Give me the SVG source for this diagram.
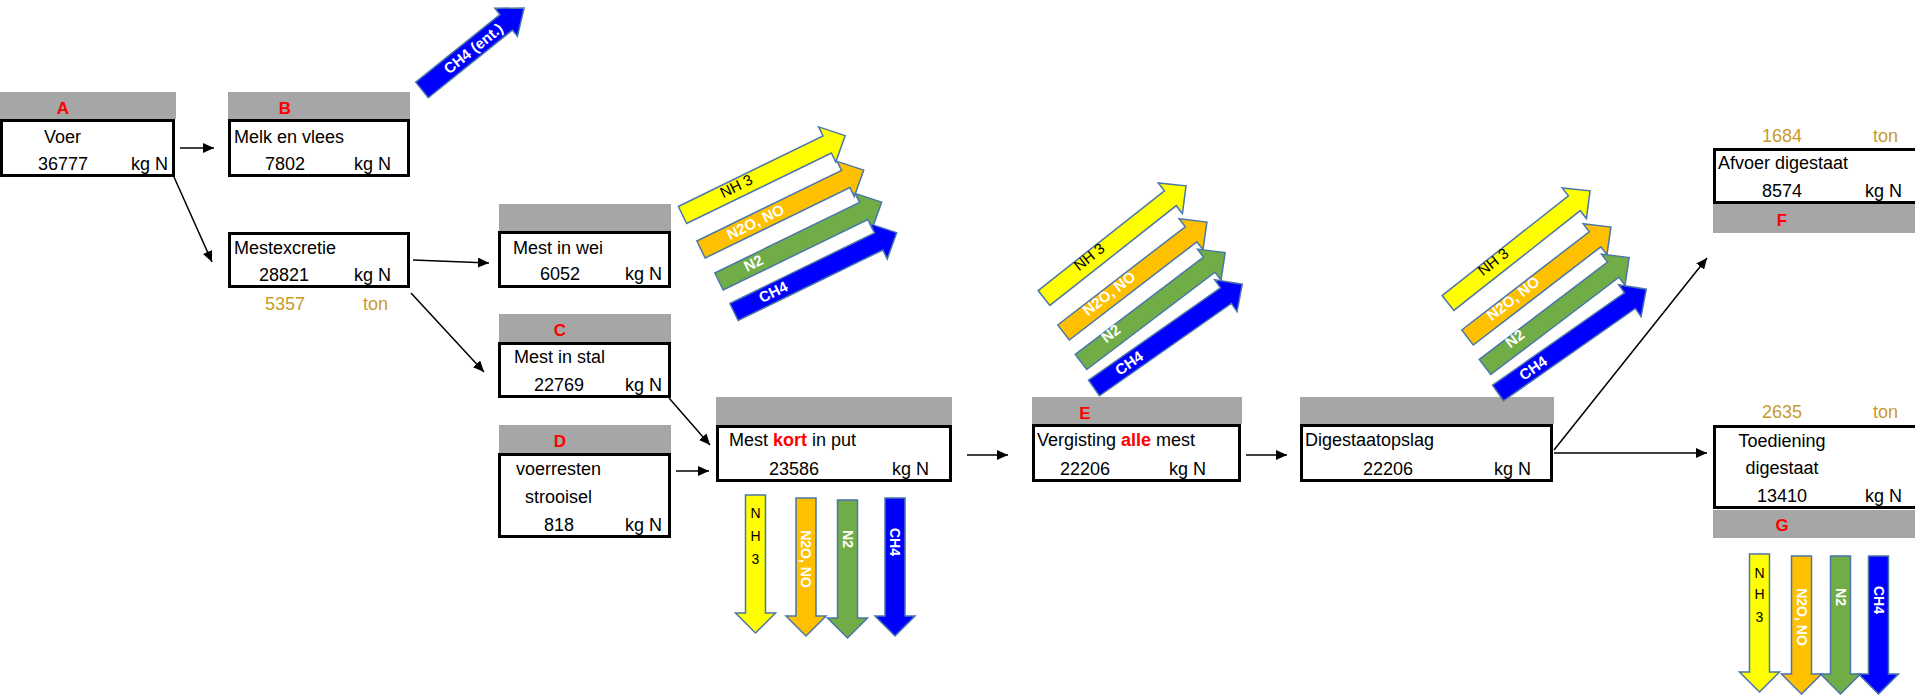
<svg xmlns="http://www.w3.org/2000/svg" width="1915" height="695" viewBox="0 0 1915 695">
<style>
text{font-family:"Liberation Sans",Arial,sans-serif;}
.t{font-size:18px;fill:#000}
.m{text-anchor:middle}
.e{text-anchor:end}
.hd{fill:#A6A6A6}
.bx{fill:#fff;stroke:#000;stroke-width:3}
.lt{font-size:17px;font-weight:bold;fill:#FF0000;text-anchor:middle}
.gold{font-size:18px;fill:#C99A2E}
.red{fill:#FF0000;font-weight:bold}
.con{stroke:#000;stroke-width:1.5;fill:none;marker-end:url(#ah)}
.ar{stroke:#4A76A8;stroke-width:1.5}
.y{fill:#FFFF00}.o{fill:#FFC000}.g{fill:#70AD47}.b{fill:#0000FF}
.dl{font-size:15px;text-anchor:middle;fill:#000}
.vl{font-size:14px;text-anchor:middle;fill:#000}
text.wl{fill:#fff;font-weight:bold}
</style>
<defs>
<marker id="ah" markerUnits="userSpaceOnUse" markerWidth="11" markerHeight="10" refX="11" refY="5" orient="auto"><path d="M0,0 L11,5 L0,10 Z" fill="#000"/></marker>
<path id="da" d="M0,-9.5 H161 V-19.5 L181,0 L161,19.5 V9.5 H0 Z"/>
<path id="dn" d="M-10,0 H10 V118 H20 L0,138 L-20,118 H-10 Z"/>
</defs>

<g id="connectors">
<line class="con" x1="180" y1="148" x2="214" y2="148"/>
<line class="con" x1="174" y1="177" x2="212" y2="262"/>
<line class="con" x1="413" y1="260" x2="489" y2="263"/>
<line class="con" x1="411" y1="293" x2="484" y2="372"/>
<line class="con" x1="669" y1="398" x2="710" y2="445"/>
<line class="con" x1="676" y1="471" x2="709" y2="471"/>
<line class="con" x1="967" y1="455" x2="1008" y2="455"/>
<line class="con" x1="1246" y1="455" x2="1287" y2="455"/>
<line class="con" x1="1554" y1="450" x2="1707" y2="258"/>
<line class="con" x1="1554" y1="453" x2="1707" y2="453"/>
<line x1="1910" y1="455" x2="1915" y2="455" stroke="#000" stroke-width="2"/>
</g>

<g id="node-A">
<rect class="hd" x="0" y="92" width="176" height="27"/>
<text class="lt" x="63" y="114">A</text>
<rect class="bx" x="1.5" y="120.5" width="172" height="55"/>
<text class="t" x="44" y="143">Voer</text>
<text class="t m" x="63" y="170">36777</text>
<text class="t e" x="168" y="170">kg N</text>
</g>

<g id="node-B">
<rect class="hd" x="228" y="92" width="182" height="27"/>
<text class="lt" x="285" y="114">B</text>
<rect class="bx" x="229.5" y="120.5" width="179" height="55"/>
<text class="t" x="234" y="143">Melk en vlees</text>
<text class="t m" x="285" y="170">7802</text>
<text class="t e" x="391" y="170">kg N</text>
</g>

<g id="node-mestexcretie">
<rect class="bx" x="229.5" y="233.5" width="179" height="53"/>
<text class="t" x="234" y="254">Mestexcretie</text>
<text class="t m" x="284" y="281">28821</text>
<text class="t e" x="391" y="281">kg N</text>
<text class="gold m" x="285" y="310">5357</text>
<text class="gold e" x="388" y="310">ton</text>
</g>

<g id="node-ch4-ent">
<g transform="translate(422,90) rotate(-38.8)">
<path class="ar b" d="M0,-10 H108 V-18 L131,0 L108,18 V10 H0 Z"/>
<text class="dl wl" x="66" y="5" font-size="14.5">CH4 (ent.)</text>
</g>
</g>

<g id="node-mest-in-wei">
<rect class="hd" x="499" y="204" width="172" height="27"/>
<rect class="bx" x="499.5" y="232.5" width="170" height="54"/>
<text class="t" x="513" y="254">Mest in wei</text>
<text class="t m" x="560" y="280">6052</text>
<text class="t e" x="662" y="280">kg N</text>
</g>

<g id="emissions-wei">
<g transform="translate(682.5,215) rotate(-26)"><use href="#da" class="ar y"/><text class="dl" x="61" y="2.7">NH 3</text></g>
<g transform="translate(701,249.5) rotate(-26)"><use href="#da" class="ar o"/><text class="dl wl" x="61" y="4.4">N2O, NO</text></g>
<g transform="translate(719,281.5) rotate(-26)"><use href="#da" class="ar g"/><text class="dl wl" x="39" y="3.7">N2</text></g>
<g transform="translate(734,312) rotate(-26)"><use href="#da" class="ar b"/><text class="dl wl" x="44" y="4.5">CH4</text></g>
</g>

<g id="node-C">
<rect class="hd" x="499" y="314" width="172" height="28"/>
<text class="lt" x="560" y="336">C</text>
<rect class="bx" x="499.5" y="343.5" width="170" height="53"/>
<text class="t" x="514" y="363">Mest in stal</text>
<text class="t m" x="559" y="391">22769</text>
<text class="t e" x="662" y="391">kg N</text>
</g>

<g id="node-D">
<rect class="hd" x="499" y="425" width="172" height="28"/>
<text class="lt" x="560" y="447">D</text>
<rect class="bx" x="499.5" y="454.5" width="170" height="82"/>
<text class="t" x="516" y="475">voerresten</text>
<text class="t" x="525" y="503">strooisel</text>
<text class="t m" x="559" y="531">818</text>
<text class="t e" x="662" y="531">kg N</text>
</g>

<g id="node-mest-kort">
<rect class="hd" x="716" y="397" width="236" height="28"/>
<rect class="bx" x="717.5" y="426.5" width="233" height="54"/>
<text class="t" x="729" y="446">Mest <tspan class="red">kort</tspan> in put</text>
<text class="t m" x="794" y="475">23586</text>
<text class="t e" x="929" y="475">kg N</text>
</g>

<g id="emissions-put">
<use href="#dn" class="ar y" transform="translate(755.5,495)"/>
<use href="#dn" class="ar o" transform="translate(806,498)"/>
<use href="#dn" class="ar g" transform="translate(847.5,500)"/>
<use href="#dn" class="ar b" transform="translate(895,498)"/>
<text class="vl" x="755.5" y="518">N</text>
<text class="vl" x="755.5" y="541">H</text>
<text class="vl" x="755.5" y="564">3</text>
<text class="vl wl" transform="translate(806,559) rotate(90)" y="5">N2O, NO</text>
<text class="vl wl" transform="translate(847.5,539) rotate(90)" y="5">N2</text>
<text class="vl wl" transform="translate(895,542) rotate(90)" y="5">CH4</text>
</g>

<g id="node-E">
<rect class="hd" x="1032" y="397" width="210" height="27"/>
<text class="lt" x="1085" y="419">E</text>
<rect class="bx" x="1033.5" y="425.5" width="206" height="55"/>
<text class="t" x="1037" y="446">Vergisting <tspan class="red">alle</tspan> mest</text>
<text class="t m" x="1085" y="475">22206</text>
<text class="t e" x="1206" y="475">kg N</text>
</g>

<g id="emissions-vergisting">
<g transform="translate(1044,298) rotate(-38.3)"><use href="#da" class="ar y"/><text class="dl" x="61" y="1">NH 3</text></g>
<g transform="translate(1063.5,332.5) rotate(-37.6)"><use href="#da" class="ar o"/><text class="dl wl" x="60" y="2">N2O, NO</text></g>
<g transform="translate(1081,362) rotate(-37.2)"><use href="#da" class="ar g"/><text class="dl wl" x="41" y="0.5">N2</text></g>
<g transform="translate(1094,388) rotate(-35)"><use href="#da" class="ar b"/><text class="dl wl" x="43" y="5">CH4</text></g>
</g>

<g id="node-digestaatopslag">
<rect class="hd" x="1300" y="397" width="254" height="27"/>
<rect class="bx" x="1301.5" y="425.5" width="250" height="55"/>
<text class="t" x="1305" y="446">Digestaatopslag</text>
<text class="t m" x="1388" y="475">22206</text>
<text class="t e" x="1531" y="475">kg N</text>
</g>

<g id="emissions-digestaatopslag">
<g transform="translate(1448,303) rotate(-38.3)"><use href="#da" class="ar y"/><text class="dl" x="61" y="1">NH 3</text></g>
<g transform="translate(1467.5,337.5) rotate(-37.6)"><use href="#da" class="ar o"/><text class="dl wl" x="60" y="2">N2O, NO</text></g>
<g transform="translate(1485,367) rotate(-37.2)"><use href="#da" class="ar g"/><text class="dl wl" x="41" y="0.5">N2</text></g>
<g transform="translate(1498,393) rotate(-35)"><use href="#da" class="ar b"/><text class="dl wl" x="43" y="5">CH4</text></g>
</g>

<g id="node-F">
<text class="gold m" x="1782" y="142">1684</text>
<text class="gold e" x="1898" y="142">ton</text>
<rect class="bx" x="1714.5" y="149.5" width="220" height="53"/>
<text class="t" x="1718" y="169">Afvoer digestaat</text>
<text class="t m" x="1782" y="197">8574</text>
<text class="t e" x="1902" y="197">kg N</text>
<rect class="hd" x="1713" y="204" width="210" height="29"/>
<text class="lt" x="1782" y="226">F</text>
</g>

<g id="node-G">
<text class="gold m" x="1782" y="418">2635</text>
<text class="gold e" x="1898" y="418">ton</text>
<rect class="bx" x="1714.5" y="426.5" width="220" height="81"/>
<text class="t m" x="1782" y="447">Toediening</text>
<text class="t m" x="1782" y="474">digestaat</text>
<text class="t m" x="1782" y="502">13410</text>
<text class="t e" x="1902" y="502">kg N</text>
<rect class="hd" x="1713" y="510" width="210" height="28"/>
<text class="lt" x="1782" y="531">G</text>
</g>

<g id="emissions-toediening">
<use href="#dn" class="ar y" transform="translate(1759.5,554)"/>
<use href="#dn" class="ar o" transform="translate(1801.5,556)"/>
<use href="#dn" class="ar g" transform="translate(1840.5,556)"/>
<use href="#dn" class="ar b" transform="translate(1878.5,556)"/>
<text class="vl" x="1759.5" y="578">N</text>
<text class="vl" x="1759.5" y="599">H</text>
<text class="vl" x="1759.5" y="622">3</text>
<text class="vl wl" transform="translate(1801.5,617) rotate(90)" y="5">N2O, NO</text>
<text class="vl wl" transform="translate(1840.5,597) rotate(90)" y="5">N2</text>
<text class="vl wl" transform="translate(1878.5,600) rotate(90)" y="5">CH4</text>
</g>
</svg>
